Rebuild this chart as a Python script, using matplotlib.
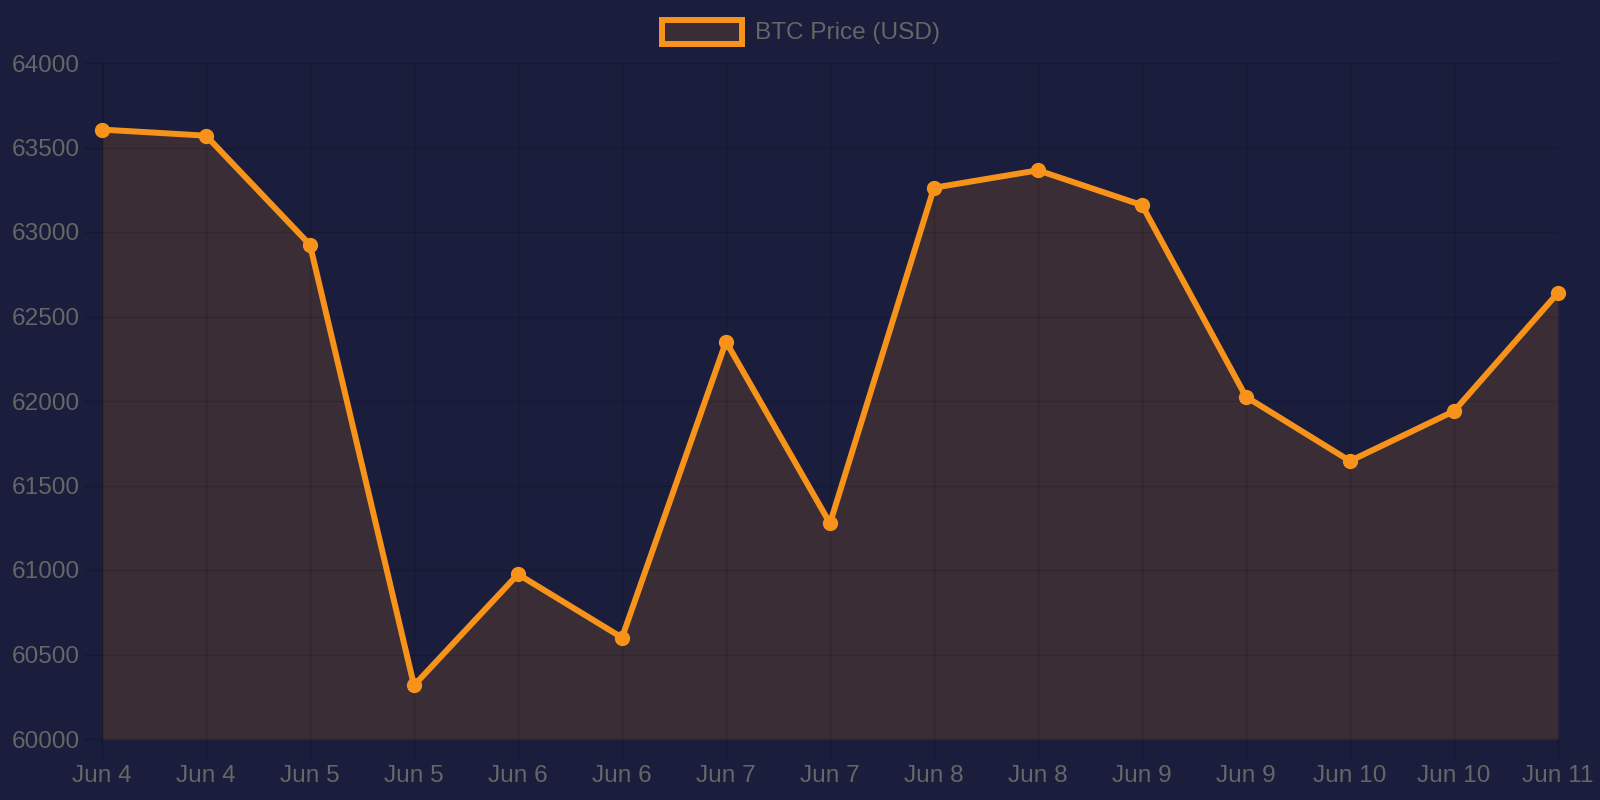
import matplotlib
matplotlib.use("Agg")
import matplotlib.pyplot as plt
from matplotlib.patches import Rectangle

labels = ["Jun 4", "Jun 4", "Jun 5", "Jun 5", "Jun 6", "Jun 6", "Jun 7", "Jun 7",
          "Jun 8", "Jun 8", "Jun 9", "Jun 9", "Jun 10", "Jun 10", "Jun 11"]
prices = [63606, 63570, 62924, 60317, 60975, 60600, 62351, 61276,
          63262, 63365, 63159, 62025, 61645, 61940, 62640]
yticks = [60000, 60500, 61000, 61500, 62000, 62500, 63000, 63500, 64000]
series_name = "BTC Price (USD)"

BG = "#1a1d3c"
FILL = "#3a2d35"
ORANGE = "#f7931a"
TXT = "#666666"
TICKC = "#151831"

plt.rcParams['font.family'] = ['Liberation Sans', 'DejaVu Sans']
W, H = 1600, 800
fig = plt.figure(figsize=(16, 8), dpi=100, facecolor=BG)
L, R, T, B = 102, 1558, 63, 739
ax = fig.add_axes([L / W, 1 - B / H, (R - L) / W, (B - T) / H])
ax.set_facecolor(BG)

x = list(range(len(prices)))
ax.fill_between(x, prices, 60000, color=FILL, zorder=1, linewidth=0)
ax.plot(x, prices, color=ORANGE, linewidth=4.3, marker='o', markersize=10,
        markerfacecolor=ORANGE, markeredgecolor=ORANGE, zorder=3, clip_on=False)

ax.set_xlim(0, len(prices) - 1)
ax.set_ylim(60000, 64000)
ax.set_xticks(x)
ax.set_xticklabels(labels)
ax.set_yticks(yticks)
ax.set_yticklabels([str(v) for v in yticks])
ax.grid(True, color='black', alpha=0.12, linewidth=1.0, zorder=2)
ax.set_axisbelow(False)
for s in ax.spines.values():
    s.set_visible(False)
ax.tick_params(axis='both', colors=TICKC, labelcolor=TXT, labelsize=17.6, width=1.0)
ax.tick_params(axis='x', length=14, pad=5)
ax.tick_params(axis='y', length=13, pad=3)
ax.axhline(60000, color='black', alpha=0.2, linewidth=1.0, zorder=2)
ax.axvline(0, color='black', alpha=0.2, linewidth=1.0, zorder=2)

# legend
rect = Rectangle((662 / W, 1 - 44 / H), 80 / W, 24 / H, transform=fig.transFigure,
                 facecolor=FILL, edgecolor=ORANGE, linewidth=4.3)
fig.patches.append(rect)
fig.text(755 / W, 1 - 33 / H, series_name, color=TXT, fontsize=17.6,
         ha='left', va='center')

fig.savefig("out.png", dpi=100, facecolor=BG)
